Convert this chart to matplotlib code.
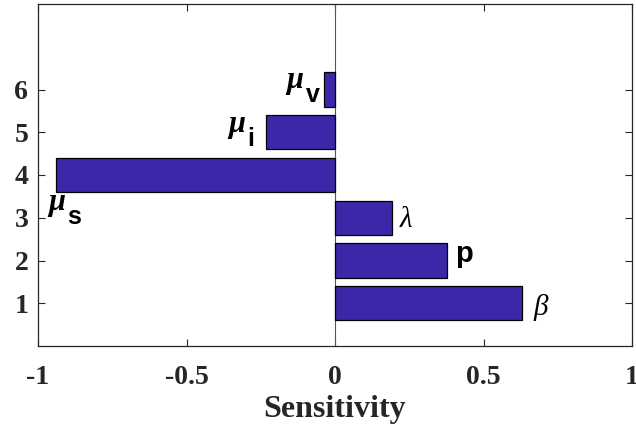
import matplotlib
matplotlib.use('Agg')
import matplotlib.pyplot as plt

# sensitivity indices, one bar per parameter (bottom to top)
positions = [1, 2, 3, 4, 5, 6]
sensitivity = [0.629, 0.377, 0.191, -0.939, -0.233, -0.036]

# parameter labels: main symbol and bold subscript
symbols = ['\u03b2', 'p', '\u03bb', '\u03bc', '\u03bc', '\u03bc']
subscripts = ['', '', '', 's', 'i', 'v']
# where each label starts (data coords, baseline)
label_x = [0.667, 0.405, 0.219, -0.966, -0.36, -0.163]
label_y = [0.725, 1.97, 2.78, 3.18, 5.0, 6.04]

bar_color = (0.2422, 0.1504, 0.6603)  # first colour of parula

fig = plt.figure(figsize=(6.36, 4.32), dpi=100)
ax = fig.add_axes([38 / 636, 86 / 432, 594 / 636, 342 / 432])

ax.barh(positions, sensitivity, height=0.8, color=bar_color,
        edgecolor='black', linewidth=0.9, zorder=3)
ax.axvline(0, color='#555555', linewidth=0.8, zorder=2)

ax.set_xlim(-1, 1)
ax.set_ylim(0, 8)
ax.set_xticks([-1, -0.5, 0, 0.5, 1])
ax.set_xticklabels(['-1', '-0.5', '0', '0.5', '1'])
ax.set_yticks(positions)

for lab in ax.get_xticklabels() + ax.get_yticklabels():
    lab.set_fontproperties('Liberation Serif')
    lab.set_fontweight('bold')
    lab.set_fontsize(20)
    lab.set_color('#262626')

ax.tick_params(direction='in', length=5, width=0.8, top=True, right=True,
               colors='#262626')
ax.tick_params(axis='x', pad=14)
ax.tick_params(axis='y', pad=7)
for sp in ax.spines.values():
    sp.set_color('#262626')
    sp.set_linewidth(0.9)

ax.set_xlabel('Sensitivity', fontsize=23, color='#262626', labelpad=3,
              family='Liberation Serif', weight='bold')

# labels next to the bars
for sym, sub, x, y in zip(symbols, subscripts, label_x, label_y):
    if sym == 'p':
        ax.text(x, y, sym, fontsize=21, family='Liberation Sans',
                weight='bold', ha='left', va='baseline')
    elif sym == '\u03bc':
        ax.text(x, y, sym, fontsize=22, family='Liberation Serif',
                style='italic', weight='bold', ha='left', va='baseline')
    else:
        ax.text(x, y, sym, fontsize=21, family='Liberation Serif',
                style='italic', ha='left', va='baseline')
    if sub:
        ax.annotate(sub, xy=(x, y), xytext=(14, -10),
                    textcoords='offset points', fontsize=18,
                    family='Liberation Sans', weight='bold',
                    ha='left', va='baseline')

fig.savefig('out.png', dpi=100)
